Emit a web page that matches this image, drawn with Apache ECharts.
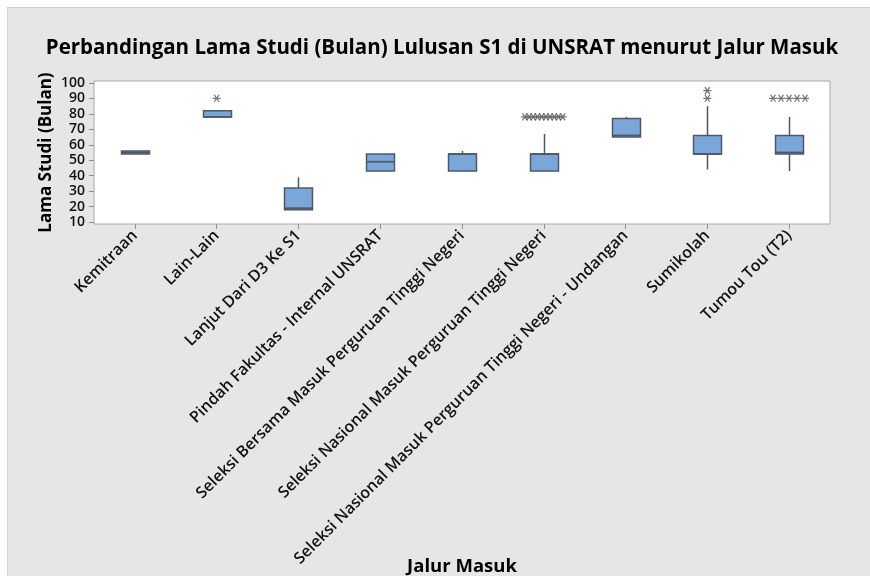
<!DOCTYPE html>
<html>
<head>
<meta charset="utf-8">
<script src="https://cdn.jsdelivr.net/npm/echarts@6/dist/echarts.min.js"></script>
<style>
html,body{margin:0;padding:0;background:#fff;}
#frame{position:absolute;left:7px;top:7px;width:863px;height:569px;background:#e6e6e6;border-top:1px solid #d0d0d0;border-left:1px solid #d0d0d0;box-sizing:border-box;}
#chart{position:absolute;left:0;top:0;width:870px;height:576px;}
</style>
</head>
<body>
<div id="frame"></div>
<div id="chart"></div>
<script>
// Categories (Jalur Masuk)
const categories = [
  "Kemitraan",
  "Lain-Lain",
  "Lanjut Dari D3 Ke S1",
  "Pindah Fakultas - Internal UNSRAT",
  "Seleksi Bersama Masuk Perguruan Tinggi Negeri",
  "Seleksi Nasional Masuk Perguruan Tinggi Negeri",
  "Seleksi Nasional Masuk Perguruan Tinggi Negeri - Undangan",
  "Sumikolah",
  "Tumou Tou (T2)"
];
// Box statistics: [min, Q1, median, Q3, max] (Lama Studi, Bulan)
const boxMin    = [54, 78, 18, 43, 43, 43, 65, 44, 43];
const boxQ1     = [54, 78, 18, 43, 43, 43, 65, 54, 54];
const boxMedian = [55, 78, 19, 49, 54, 54, 66, 54, 55];
const boxQ3     = [56, 82, 32, 54, 54, 54, 77, 66, 66];
const boxMax    = [56, 82, 39, 54, 56, 67, 78, 85, 78];
// Outliers: category index and value
const outlierCat = [1, 5,5,5,5,5,5,5,5,5,5, 7, 7, 8,8,8,8,8];
const outlierVal = [90, 78,78,78,78,78,78,78,78,78,78, 95, 90, 90,90,90,90,90];
// Y tick labels
const yTicks = [10, 20, 30, 40, 50, 60, 70, 80, 90, 100];

const boxData = categories.map((c, i) => [i, boxMin[i], boxQ1[i], boxMedian[i], boxQ3[i], boxMax[i]]);

// stack duplicate outliers horizontally (Minitab style)
const groups = {};
outlierCat.forEach((c, i) => {
  const key = c + '_' + outlierVal[i];
  (groups[key] = groups[key] || []).push(i);
});
const spacingFor = n => (n > 6 ? 4.2 : 8);
const outlierData = outlierCat.map((c, i) => {
  const key = c + '_' + outlierVal[i];
  const g = groups[key];
  const k = g.indexOf(i);
  const n = g.length;
  const sp = spacingFor(n);
  return {
    value: [c, outlierVal[i]],
    symbolOffset: [(k - (n - 1) / 2) * sp, 0]
  };
});

const BOX_W = 28;
const BOX_FILL = '#7aa6da';
const BOX_LINE = '#4f5966';
function renderBox(params, api) {
  const x = api.value(0);
  const pMin = api.coord([x, api.value(1)]);
  const pQ1 = api.coord([x, api.value(2)]);
  const pMed = api.coord([x, api.value(3)]);
  const pQ3 = api.coord([x, api.value(4)]);
  const pMax = api.coord([x, api.value(5)]);
  const cx = Math.round(pQ1[0]) + 0.5;
  const half = BOX_W / 2;
  const lineStyle = {stroke: BOX_LINE, lineWidth: 1.5, fill: null};
  return {
    type: 'group',
    children: [
      {type: 'line', shape: {x1: cx, y1: pQ3[1], x2: cx, y2: pMax[1]}, style: lineStyle},
      {type: 'line', shape: {x1: cx, y1: pQ1[1], x2: cx, y2: pMin[1]}, style: lineStyle},
      {type: 'rect', shape: {x: cx - half, y: pQ3[1], width: BOX_W, height: Math.max(pQ1[1] - pQ3[1], 1)},
        style: {fill: BOX_FILL, stroke: BOX_LINE, lineWidth: 1.5}},
      {type: 'line', shape: {x1: cx - half, y1: pMed[1], x2: cx + half, y2: pMed[1]}, style: {stroke: BOX_LINE, lineWidth: 1.8}}
    ]
  };
}

const FONT = '"Open Sans", "Noto Sans", sans-serif';
const chart = echarts.init(document.getElementById('chart'), null, {renderer: 'canvas'});
chart.setOption({
  backgroundColor: 'transparent',
  animation: false,
  title: {
    text: 'Perbandingan Lama Studi (Bulan) Lulusan S1 di UNSRAT menurut Jalur Masuk',
    left: 437, top: 33, textAlign: 'center',
    textStyle: {fontFamily: FONT, fontSize: 20.5, fontWeight: 'bold', color: '#000'}
  },
  grid: {
    left: 94, top: 81, right: 40, bottom: 352,
    containLabel: false,
    outerBoundsMode: 'none',
    show: true, backgroundColor: '#fff', borderColor: '#a8a8a8', borderWidth: 1
  },
  xAxis: {
    type: 'category',
    data: categories,
    boundaryGap: true,
    name: 'Jalur Masuk',
    nameLocation: 'middle',
    nameGap: 333,
    nameMoveOverlap: false,
    nameTextStyle: {fontFamily: FONT, fontSize: 18.5, fontWeight: 'bold', color: '#000'},
    axisLine: {show: false},
    axisTick: {show: true, alignWithLabel: true, length: 5, lineStyle: {color: '#909090'}},
    axisLabel: {rotate: 45, fontFamily: FONT, fontSize: 16, fontWeight: 600, color: '#111', margin: 9, interval: 0},
    splitLine: {show: false}
  },
  yAxis: {
    type: 'value',
    min: 8.8, max: 101.2,
    name: 'Lama Studi (Bulan)',
    nameLocation: 'middle',
    nameGap: 39,
    nameMoveOverlap: false,
    nameTextStyle: {fontFamily: FONT, fontSize: 17, fontWeight: 'bold', color: '#000'},
    axisLine: {show: false},
    axisTick: {show: true, length: 5, lineStyle: {color: '#909090'}, customValues: yTicks},
    axisLabel: {fontFamily: FONT, fontSize: 14, fontWeight: 600, color: '#111', margin: 9, customValues: yTicks, lineHeight: 14},
    splitLine: {show: false}
  },
  series: [
    {
      type: 'custom',
      data: boxData,
      renderItem: renderBox,
      encode: {x: 0, y: [1, 2, 3, 4, 5]},
      emphasis: {disabled: true}
    },
    {
      type: 'scatter',
      data: outlierData,
      symbol: 'path://M0,5 L10,5 M2,0 L8,10 M8,0 L2,10',
      symbolSize: [8, 7],
      itemStyle: {color: 'rgba(0,0,0,0)', borderColor: '#555', borderWidth: 1.2},
      emphasis: {disabled: true}
    }
  ]
});
</script>
</body>
</html>
